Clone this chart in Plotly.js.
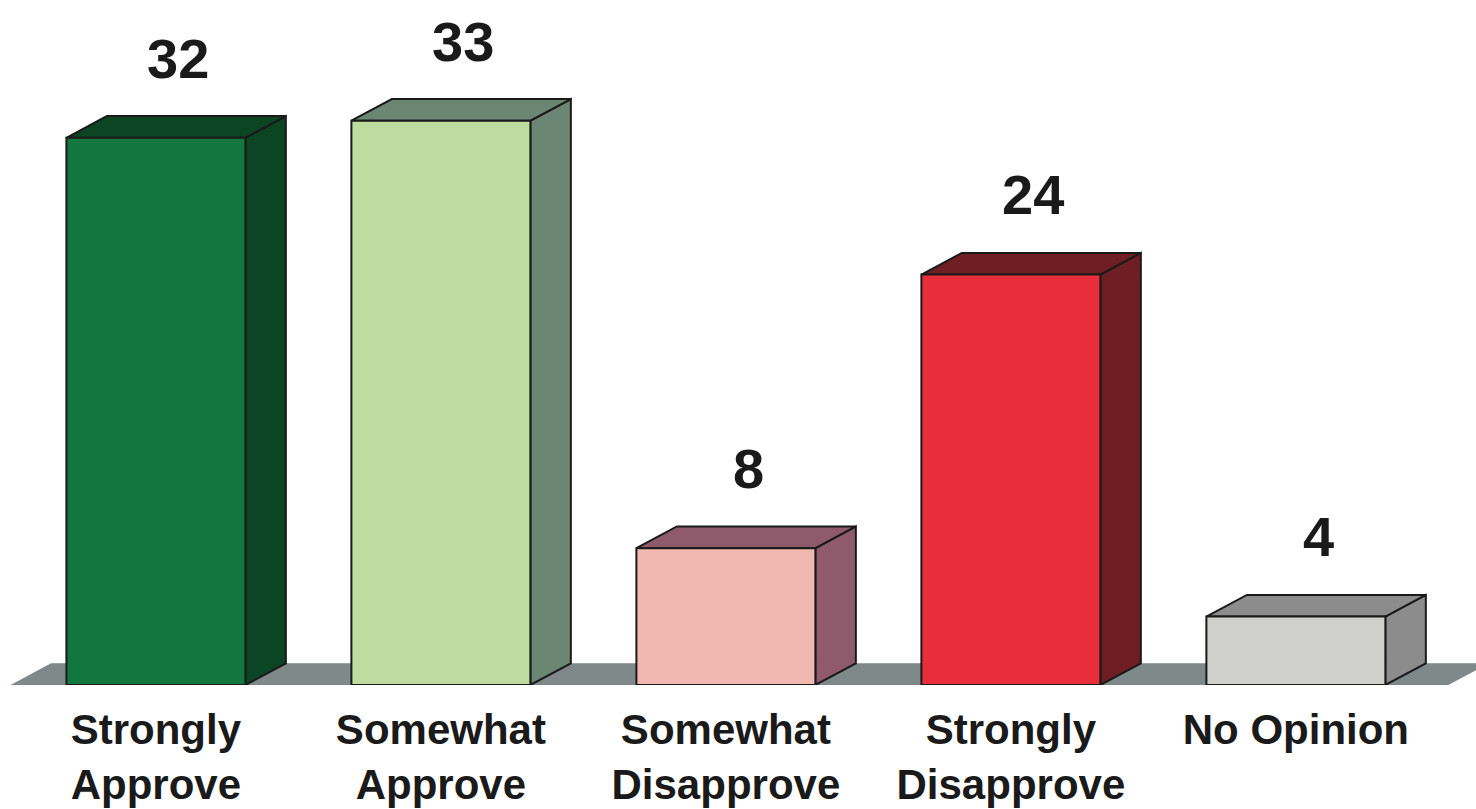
<!DOCTYPE html>
<html>
<head>
<meta charset="utf-8">
<script src="https://cdn.plot.ly/plotly-3.0.1.min.js"></script>
<style>html,body{margin:0;padding:0;background:#fff;}#chart{width:1476px;height:809px;}</style>
</head>
<body>
<div id="chart"></div>
<script>
// ---- data ----
const categories = ["Strongly<br>Approve", "Somewhat<br>Approve", "Somewhat<br>Disapprove", "Strongly<br>Disapprove", "No Opinion"];
const values = [32, 33, 8, 24, 4];
const frontColors = ["#12773F", "#BEDBA0", "#F0B8B0", "#E92D3B", "#D0D1CD"];
const sideColors = ["#0B4524", "#6B8672", "#8F5A6C", "#6F1F24", "#8C8C8C"];

// ---- geometry (styling) ----
const barWidth = 0.628;
const depthX = 0.142;   // x offset of back face (category units)
const depthY = 1.27;    // y offset of back face (value units)
const edge = "#1a1a1a";
const idx = categories.map((c, i) => i);

const shapes = [];
// floor
const fx0 = -0.51, fx1 = 4.535;
shapes.push({
  type: "path", xref: "x", yref: "y", layer: "below",
  path: `M${fx0},0 L${fx1},0 L${fx1 + depthX},${depthY} L${fx0 + depthX},${depthY} Z`,
  fillcolor: "#7F898A", line: {width: 0}
});
idx.forEach(i => {
  const v = values[i];
  const l = i - barWidth / 2, r = i + barWidth / 2;
  // side face
  shapes.push({
    type: "path", xref: "x", yref: "y", layer: "below",
    path: `M${r},0 L${r + depthX},${depthY} L${r + depthX},${v + depthY} L${r},${v} Z`,
    fillcolor: sideColors[i], line: {color: edge, width: 2}
  });
  // top face
  shapes.push({
    type: "path", xref: "x", yref: "y", layer: "below",
    path: `M${l},${v} L${l + depthX},${v + depthY} L${r + depthX},${v + depthY} L${r},${v} Z`,
    fillcolor: sideColors[i], line: {color: edge, width: 2}
  });
});

const annotations = idx.map(i => ({
  x: i + depthX * 0.55, y: values[i] + depthY, xref: "x", yref: "y",
  text: String(values[i]), showarrow: false, yanchor: "middle", yshift: 58,
  font: {family: "Liberation Sans, Arial, sans-serif", size: 56, color: "#1a1a1a", weight: "bold"}
}));

const trace = {
  type: "bar",
  x: idx,
  y: values,
  width: barWidth,
  marker: {color: frontColors, line: {color: edge, width: 2}},
  hoverinfo: "skip"
};

const layout = {
  width: 1476, height: 809,
  margin: {l: 0, r: 0, t: 0, b: 124},
  paper_bgcolor: "#ffffff", plot_bgcolor: "rgba(0,0,0,0)",
  showlegend: false,
  xaxis: {
    range: [-0.547, 4.632], tickmode: "array", tickvals: idx, ticktext: categories,
    showgrid: false, zeroline: false, showline: false, ticks: "",
    ticklabelstandoff: 16,
    tickfont: {family: "Liberation Sans, Arial, sans-serif", size: 42, color: "#1a1a1a", weight: "bold"},
    fixedrange: true
  },
  yaxis: {
    range: [0, 40.06], showgrid: false, zeroline: false, showline: false,
    showticklabels: false, ticks: "", fixedrange: true
  },
  shapes: shapes,
  annotations: annotations
};

Plotly.newPlot("chart", [trace], layout, {displayModeBar: false, staticPlot: true});
</script>
</body>
</html>
